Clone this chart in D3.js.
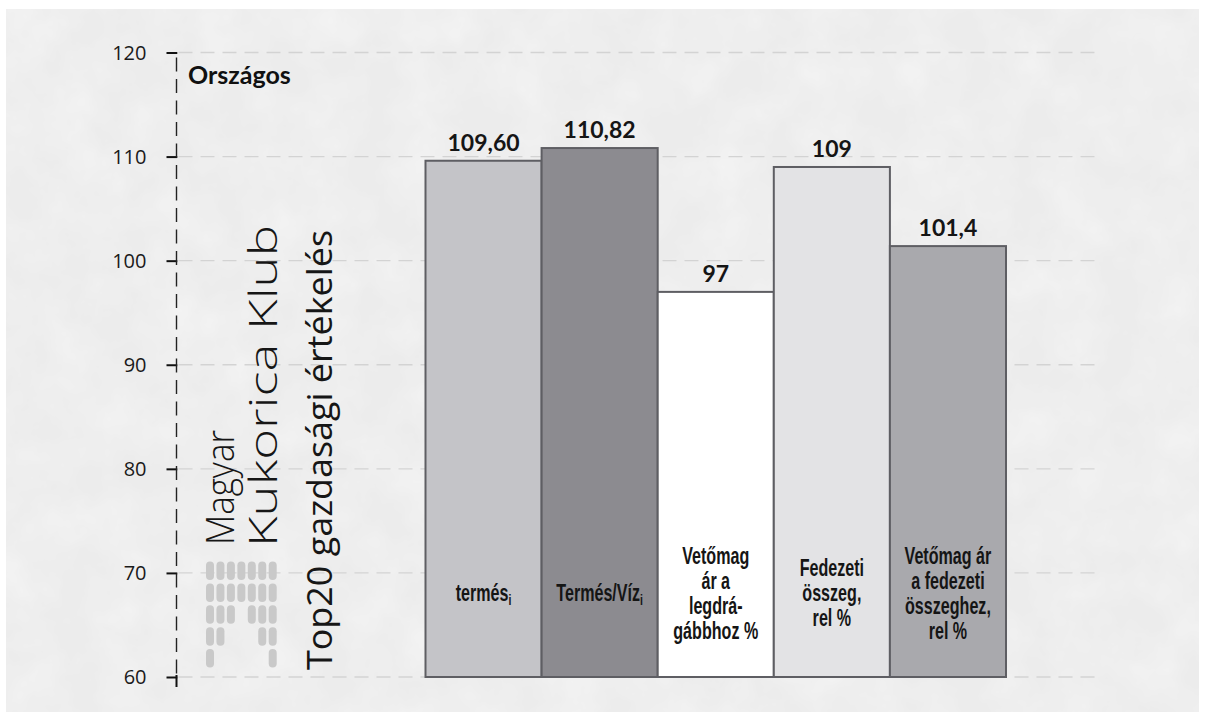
<!DOCTYPE html>
<html>
<head>
<meta charset="utf-8">
<script src="https://cdn.jsdelivr.net/npm/d3@7"></script>
<style>
  html, body { margin: 0; padding: 0; background: #ffffff; }
  svg { display: block; }
</style>
</head>
<body>
<svg id="chart" width="1206" height="721"></svg>
<script>
// Categories (a "_i" suffix is drawn as a subscript i); lines split for wrapping inside bars
const categoryLines = [
  ["termés_i"],
  ["Termés/Víz_i"],
  ["Vetőmag", "ár a", "legdrá-", "gábbhoz %"],
  ["Fedezeti", "összeg,", "rel %"],
  ["Vetőmag ár", "a fedezeti", "összeghez,", "rel %"]
];
const values = [109.60, 110.82, 97, 109, 101.4];
const valueLabels = ["109,60", "110,82", "97", "109", "101,4"];
const yTicks = [60, 70, 80, 90, 100, 110, 120];
const yDomain = [60, 120];
const panelLabel = "Országos";
const brandLines = ["Magyar", "Kukorica Klub", "Top20 gazdasági értékelés"];
// Logo dot matrix: 1 = dot present (rows top to bottom, 7 columns)
const logoRows = [
  [1, 1, 1, 1, 1, 1, 1],
  [1, 1, 1, 1, 1, 1, 1],
  [1, 1, 1, 0, 1, 1, 1],
  [1, 1, 0, 0, 0, 1, 1],
  [1, 0, 0, 0, 0, 0, 1]
];

const barFills = ["#c4c4c8", "#8c8b90", "#ffffff", "#e3e3e5", "#a9a9ad"];

const svg = d3.select("#chart");

// textured light-grey panel
const defs = svg.append("defs");
const noise = defs.append("filter").attr("id", "paper").attr("x", 0).attr("y", 0).attr("width", 1).attr("height", 1);
noise.append("feTurbulence").attr("type", "fractalNoise").attr("baseFrequency", 0.02).attr("numOctaves", 4).attr("seed", 4).attr("result", "n");
noise.append("feColorMatrix").attr("in", "n").attr("type", "matrix")
  .attr("values", "0 0 0 0 1  0 0 0 0 1  0 0 0 0 1  0 0 0 -0.6 0.4").attr("result", "w");
noise.append("feComposite").attr("in", "w").attr("in2", "SourceGraphic").attr("operator", "atop");

svg.append("rect").attr("x", 6).attr("y", 9).attr("width", 1193).attr("height", 703)
  .attr("fill", "#ececec").attr("filter", "url(#paper)");

const axisX = 176.5;
const y = d3.scaleLinear().domain(yDomain).range([677, 52.5]);
const x = d3.scaleBand().domain(d3.range(values.length)).range([425.5, 1006]).paddingInner(0).paddingOuter(0);

// dashed horizontal gridlines
svg.append("g").selectAll("line").data(yTicks).join("line")
  .attr("x1", axisX + 2).attr("x2", 1095)
  .attr("y1", d => y(d)).attr("y2", d => y(d))
  .attr("stroke", "#d3d3d3").attr("stroke-width", 1.3)
  .attr("stroke-dasharray", "14,8");

// dashed y axis with short ticks
const yAxis = d3.axisLeft(y).tickValues(yTicks).tickSize(10).tickPadding(20).tickFormat(d3.format("d"));
const gAxis = svg.append("g").attr("transform", `translate(${axisX},0)`).call(yAxis);
gAxis.select(".domain").remove();
gAxis.selectAll(".tick line").attr("stroke", "#111").attr("stroke-width", 2).attr("x2", -10).attr("x1", 0.8);
gAxis.selectAll(".tick text")
  .attr("fill", "#1a1a1a").attr("font-family", "'Open Sans', 'Noto Sans', sans-serif")
  .attr("font-size", 20).attr("dy", "0.34em");
gAxis.append("line").attr("x1", 0).attr("x2", 0)
  .attr("y1", y(120) + 5).attr("y2", y(60))
  .attr("stroke", "#222").attr("stroke-width", 1.4).attr("stroke-dasharray", "14,7.5");
gAxis.append("line").attr("x1", 0).attr("x2", 0)
  .attr("y1", y(60) - 2).attr("y2", y(60) + 10)
  .attr("stroke", "#111").attr("stroke-width", 2);

// bars
svg.append("g").selectAll("rect").data(values).join("rect")
  .attr("x", (d, i) => x(i)).attr("width", x.bandwidth())
  .attr("y", d => y(d)).attr("height", d => y(yDomain[0]) - y(d))
  .attr("fill", (d, i) => barFills[i])
  .attr("stroke", "#5e5e63").attr("stroke-width", 2);

// value labels above bars
svg.append("g").selectAll("text").data(values).join("text")
  .attr("x", (d, i) => x(i) + x.bandwidth() / 2)
  .attr("y", d => y(d) - 10)
  .attr("text-anchor", "middle")
  .attr("font-family", "Lato, 'Noto Sans', sans-serif").attr("font-weight", 700)
  .attr("font-size", 23).attr("fill", "#151515")
  .text((d, i) => valueLabels[i]);

// category labels inside bars (condensed bold)
const lineH = 25;
const labelCenter = 593;
const catG = svg.append("g")
  .attr("font-family", "'Liberation Sans', Arial, sans-serif")
  .attr("font-weight", 700).attr("font-size", 23).attr("fill", "#151515")
  .attr("text-anchor", "middle");
categoryLines.forEach((lines, i) => {
  const cx = x(i) + x.bandwidth() / 2;
  const top = labelCenter - (lines.length - 1) * lineH / 2;
  lines.forEach((ln, k) => {
    const t = catG.append("text")
      .attr("transform", `translate(${cx},${top + k * lineH}) scale(0.7,1)`)
      .attr("dy", "0.36em");
    const parts = ln.split("_");
    t.append("tspan").text(parts[0]);
    if (parts[1]) {
      t.append("tspan").attr("font-size", 15).attr("dy", 4).text(parts[1]);
    }
  });
});

// panel label
svg.append("text").attr("x", 188).attr("y", 84)
  .attr("font-family", "Lato, 'Noto Sans', sans-serif").attr("font-weight", 700)
  .attr("font-size", 25).attr("fill", "#111").text(panelLabel);

// rotated brand text
const brand = [
  { x: 234, y: 545, len: 115, size: 38, weight: 300 },
  { x: 277, y: 547, len: 322, size: 38, weight: 300 },
  { x: 332, y: 670, len: 440, size: 34, weight: 400 }
];
brandLines.forEach((txt, i) => {
  const b = brand[i];
  svg.append("text")
    .attr("transform", `translate(${b.x},${b.y}) rotate(-90)`)
    .attr("font-family", "'Open Sans', 'Noto Sans', sans-serif")
    .attr("font-weight", b.weight).attr("font-size", b.size).attr("fill", "#161616")
    .attr("textLength", b.len).attr("lengthAdjust", "spacingAndGlyphs")
    .text(txt);
});

// logo dot matrix
const logo = svg.append("g").attr("fill", "#c9c9c9");
logoRows.forEach((row, r) => {
  row.forEach((on, c) => {
    if (!on) return;
    logo.append("rect")
      .attr("x", 206 + c * 10.45).attr("y", 561.5 + r * 21.9)
      .attr("width", 8).attr("height", 18.5).attr("rx", 4).attr("ry", 4);
  });
});
</script>
</body>
</html>
